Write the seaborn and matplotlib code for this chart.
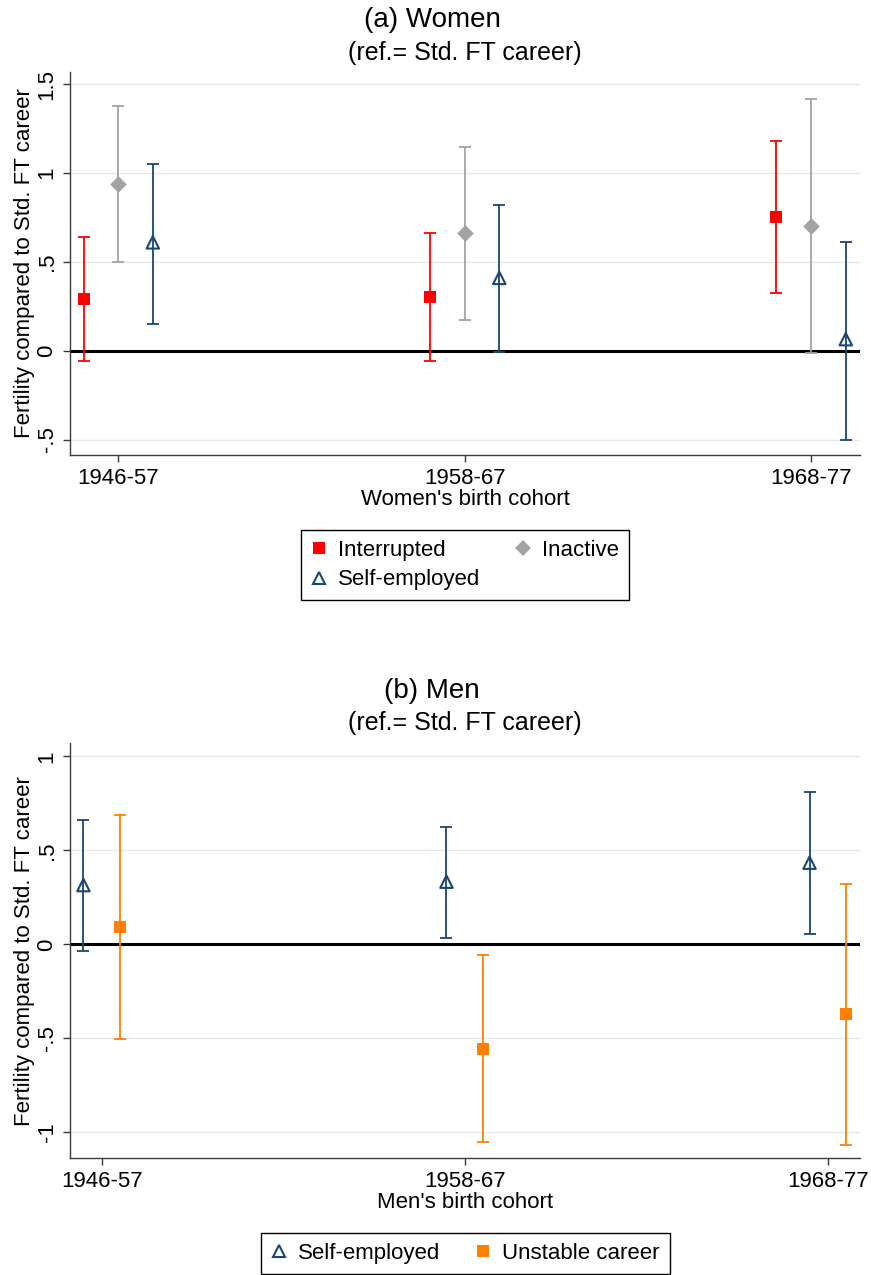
import numpy as np
import pandas as pd
import matplotlib
matplotlib.use("Agg")
import matplotlib.pyplot as plt
import seaborn as sns
from matplotlib.lines import Line2D

# ---------------- data ----------------
cohorts = ["1946-57", "1958-67", "1968-77"]

women_interrupted_est = [0.29, 0.30, 0.75]
women_interrupted_lo = [-0.06, -0.06, 0.325]
women_interrupted_hi = [0.64, 0.66, 1.18]

women_inactive_est = [0.94, 0.66, 0.70]
women_inactive_lo = [0.50, 0.175, -0.015]
women_inactive_hi = [1.38, 1.145, 1.415]

women_selfemp_est = [0.61, 0.41, 0.065]
women_selfemp_lo = [0.15, -0.01, -0.50]
women_selfemp_hi = [1.05, 0.82, 0.61]

men_selfemp_est = [0.315, 0.333, 0.434]
men_selfemp_lo = [-0.037, 0.032, 0.055]
men_selfemp_hi = [0.661, 0.626, 0.810]

men_unstable_est = [0.094, -0.555, -0.369]
men_unstable_lo = [-0.505, -1.053, -1.066]
men_unstable_hi = [0.686, -0.057, 0.322]

women_yticks = [-0.5, 0, 0.5, 1, 1.5]
women_yticklabels = ["-.5", "0", ".5", "1", "1.5"]
men_yticks = [-1, -0.5, 0, 0.5, 1]
men_yticklabels = ["-1", "-.5", "0", ".5", "1"]

# ---------------- style ----------------
RED = "#FF0000"
GRAY = "#A3A3A3"
NAVY = "#1A476F"
ORANGE = "#FF7F00"
STYLE = {
    "Interrupted": dict(color=RED, marker="s", s=80, hollow=False),
    "Inactive": dict(color=GRAY, marker="D", s=72, hollow=False),
    "Self-employed": dict(color=NAVY, marker="^", s=80, hollow=True),
    "Unstable career": dict(color=ORANGE, marker="s", s=80, hollow=False),
}

sns.set_theme(style="white")
plt.rcParams["font.family"] = ["Liberation Sans", "DejaVu Sans"]
plt.rcParams["text.color"] = "black"
plt.rcParams["axes.labelcolor"] = "black"
SPINE = "#3A3A3A"

fig = plt.figure(figsize=(8.71, 12.75), dpi=100)


def draw_panel(ax, series, offsets, ylim, xlim, yticks, yticklabels, xlabel):
    ax.set_axisbelow(True)
    ax.yaxis.grid(True, color="#E6E6E6", lw=1.0)
    ax.xaxis.grid(False)
    ax.axhline(0, color="black", lw=2.2, zorder=2)
    for (name, est, lo, hi), off in zip(series, offsets):
        st = STYLE[name]
        df = pd.DataFrame({
            "x": np.arange(1, len(cohorts) + 1) + off,
            "est": est, "lo": lo, "hi": hi,
        })
        ax.errorbar(df["x"], df["est"],
                    yerr=[df["est"] - df["lo"], df["hi"] - df["est"]],
                    fmt="none", ecolor=st["color"], elinewidth=1.3,
                    capsize=4.4, capthick=1.3, zorder=3)
        if st["hollow"]:
            sns.scatterplot(data=df, x="x", y="est", ax=ax, marker=st["marker"],
                            s=st["s"], color=st["color"], facecolor="none",
                            edgecolor=st["color"], linewidth=1.5, zorder=4,
                            legend=False)
        else:
            sns.scatterplot(data=df, x="x", y="est", ax=ax, marker=st["marker"],
                            s=st["s"], color=st["color"], edgecolor=st["color"],
                            linewidth=0, zorder=4, legend=False)
    ax.set_xlim(*xlim)
    ax.set_ylim(*ylim)
    ax.set_xticks(np.arange(1, len(cohorts) + 1))
    ax.set_xticklabels(cohorts, fontsize=16)
    ax.set_yticks(yticks)
    ax.set_yticklabels(yticklabels, fontsize=16, rotation=90, va="center")
    ax.tick_params(axis="both", which="major", length=5, width=1.0,
                   color=SPINE, direction="out", left=True, bottom=True,
                   pad=4, labelcolor="black")
    for sp in ["top", "right"]:
        ax.spines[sp].set_visible(False)
    for sp in ["left", "bottom"]:
        ax.spines[sp].set_color(SPINE)
        ax.spines[sp].set_linewidth(1.0)
    ax.set_xlabel(xlabel, fontsize=16, labelpad=0, color="black")
    ax.set_ylabel("Fertility compared to Std. FT career", fontsize=16,
                  labelpad=1, color="black")


# ---------- (a) Women ----------
ax1 = fig.add_axes([70 / 871, 1 - 455 / 1275, 790 / 871, 383 / 1275])
draw_panel(
    ax1,
    [("Interrupted", women_interrupted_est, women_interrupted_lo, women_interrupted_hi),
     ("Inactive", women_inactive_est, women_inactive_lo, women_inactive_hi),
     ("Self-employed", women_selfemp_est, women_selfemp_lo, women_selfemp_hi)],
    [-0.1, 0.0, 0.1],
    (-0.587, 1.569), (0.861, 3.141),
    women_yticks, women_yticklabels, "Women's birth cohort",
)

# ---------- (b) Men ----------
ax2 = fig.add_axes([70 / 871, 1 - 1158.3 / 1275, 790 / 871, 415 / 1275])
draw_panel(
    ax2,
    [("Self-employed", men_selfemp_est, men_selfemp_lo, men_selfemp_hi),
     ("Unstable career", men_unstable_est, men_unstable_lo, men_unstable_hi)],
    [-0.05, 0.05],
    (-1.138, 1.069), (0.913, 3.089),
    men_yticks, men_yticklabels, "Men's birth cohort",
)

# titles
fig.text(432 / 871, 1 - 20 / 1275, "(a) Women", ha="center", va="center", fontsize=20)
fig.text(465 / 871, 1 - 53 / 1275, "(ref.= Std. FT career)", ha="center", va="center", fontsize=18)
fig.text(432 / 871, 1 - 691 / 1275, "(b) Men", ha="center", va="center", fontsize=20)
fig.text(465 / 871, 1 - 723 / 1275, "(ref.= Std. FT career)", ha="center", va="center", fontsize=18)


def handle(name, ms):
    st = STYLE[name]
    if st["hollow"]:
        return Line2D([], [], marker=st["marker"], linestyle="none", markersize=ms,
                      markerfacecolor="none", markeredgecolor=st["color"],
                      markeredgewidth=1.5, label=name)
    return Line2D([], [], marker=st["marker"], linestyle="none", markersize=ms,
                  markerfacecolor=st["color"], markeredgecolor=st["color"],
                  markeredgewidth=0, label=name)


leg_kw = dict(frameon=True, fancybox=False, fontsize=16, handlelength=0.7,
              handletextpad=0.5, columnspacing=1.6, borderpad=0.45,
              labelspacing=0.4, framealpha=1)

leg1 = fig.legend(handles=[handle("Interrupted", 9), handle("Self-employed", 8),
                           handle("Inactive", 8)],
                  loc="center", bbox_to_anchor=(465 / 871, 1 - 565 / 1275),
                  ncol=2, **leg_kw)
leg1.get_frame().set_edgecolor("black")
leg1.get_frame().set_linewidth(1.0)

leg2 = fig.legend(handles=[handle("Self-employed", 8), handle("Unstable career", 9)],
                  loc="center", bbox_to_anchor=(465.5 / 871, 1 - 1253.5 / 1275),
                  ncol=2, **leg_kw)
leg2.get_frame().set_edgecolor("black")
leg2.get_frame().set_linewidth(1.0)

fig.savefig("out.png", dpi=100, facecolor="white")
